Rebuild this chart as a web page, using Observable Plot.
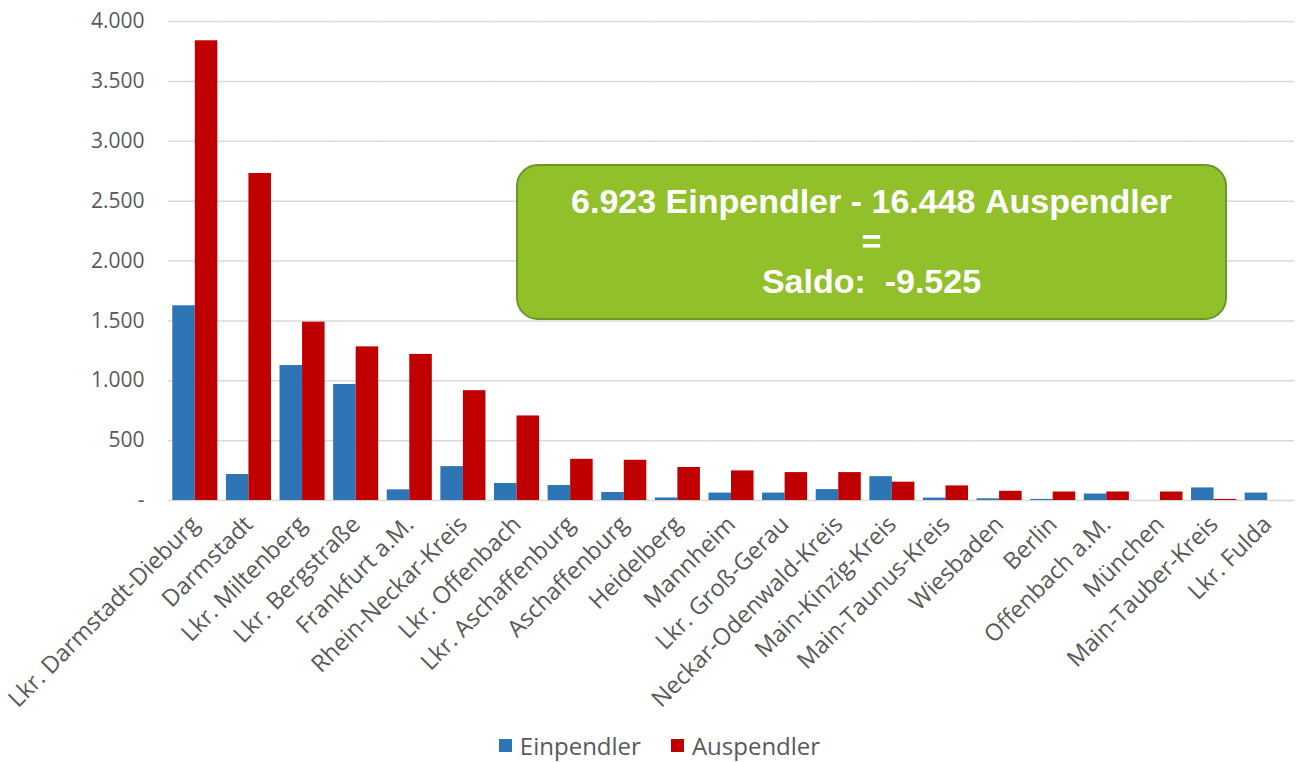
<!DOCTYPE html>
<html><head><meta charset="utf-8">
<script src="https://cdn.jsdelivr.net/npm/d3@7"></script>
<script src="https://cdn.jsdelivr.net/npm/@observablehq/plot@0.6"></script>
<style>
body{margin:0;background:#fff;font-family:"Open Sans",sans-serif;}
#wrap{position:relative;width:1296px;height:762px;overflow:hidden;}
#legend{position:absolute;left:0;top:729px;width:1296px;height:33px;display:flex;justify-content:center;align-items:center;padding-left:23px;box-sizing:border-box;font-size:24px;line-height:33px;color:#595959;}
#legend .item{display:flex;align-items:center;margin:0 15px;}
#legend .sw{width:13px;height:13px;margin-right:8px;}
#box{position:absolute;left:516px;top:164px;width:711px;height:156px;box-sizing:border-box;background:#92C02A;border:2px solid #6E9625;border-radius:22px;color:#fff;font-family:"Liberation Sans",Arial,sans-serif;font-weight:bold;font-size:34px;line-height:40px;text-align:center;padding-top:15px;}
#box div{height:40px;}
</style></head><body><div id="wrap"></div>
<script>
const categories = ["Lkr. Darmstadt-Dieburg","Darmstadt","Lkr. Miltenberg","Lkr. Bergstraße","Frankfurt a.M.","Rhein-Neckar-Kreis","Lkr. Offenbach","Lkr. Aschaffenburg","Aschaffenburg","Heidelberg","Mannheim","Lkr. Groß-Gerau","Neckar-Odenwald-Kreis","Main-Kinzig-Kreis","Main-Taunus-Kreis","Wiesbaden","Berlin","Offenbach a.M.","München","Main-Tauber-Kreis","Lkr. Fulda"];
const einpendler = [1626,217,1127,969,89,283,142,125,67,21,62,62,91,199,20,14,9,54,0,105,62];
const auspendler = [3839,2731,1489,1283,1220,917,706,344,336,276,247,233,233,153,122,77,71,71,71,9,0];
const series = ["Einpendler","Auspendler"];
const seriesColors = ["#2E75B6","#C00000"];
const yTicks = [0,500,1000,1500,2000,2500,3000,3500,4000];
const summaryLines = ["6.923 Einpendler - 16.448 Auspendler","=","Saldo:  -9.525"];

const data = categories.flatMap((c,i)=>[
  {cat:c, series:series[0], value:einpendler[i]},
  {cat:c, series:series[1], value:auspendler[i]}
]);
const deFmt = d3.formatLocale({decimal:",", thousands:".", grouping:[3], currency:["","€"]}).format(",");
const tickFmt = d => d === 0 ? "-" : deFmt(d);

const chart = Plot.plot({
  width:1296, height:728,
  marginLeft:168, marginRight:2, marginTop:21, marginBottom:228,
  style:{fontFamily:"'Open Sans', sans-serif", color:"#595959", background:"white", overflow:"visible"},
  fx:{domain:categories, padding:0, round:false, label:null},
  x:{domain:series, paddingInner:0, paddingOuter:0.19, round:false, axis:null},
  y:{domain:[0,4000], label:null},
  color:{domain:series, range:seriesColors},
  marks:[
    Plot.gridY(yTicks, {stroke:"#d9d9d9", strokeOpacity:1, strokeWidth:1.5}),
    Plot.barY(data, {fx:"cat", x:"series", y:"value", fill:"series"}),
    Plot.axisY(yTicks, {tickSize:0, tickPadding:24, tickFormat:tickFmt, fontSize:21, label:null}),
    Plot.axisFx({anchor:"bottom", tickRotate:-45, tickSize:0, tickPadding:20, fontSize:23.5, label:null})
  ]
});
const wrap = document.getElementById("wrap");
wrap.appendChild(chart);

const box = document.createElement("div");
box.id = "box";
box.innerHTML = summaryLines.map(s => `<div>${s.replace(/ /g,"&nbsp;")}</div>`).join("");
wrap.appendChild(box);

const legend = document.createElement("div");
legend.id = "legend";
legend.innerHTML = series.map((s,i)=>`<div class="item"><div class="sw" style="background:${seriesColors[i]}"></div><span>${s}</span></div>`).join("");
wrap.appendChild(legend);
</script></body></html>
